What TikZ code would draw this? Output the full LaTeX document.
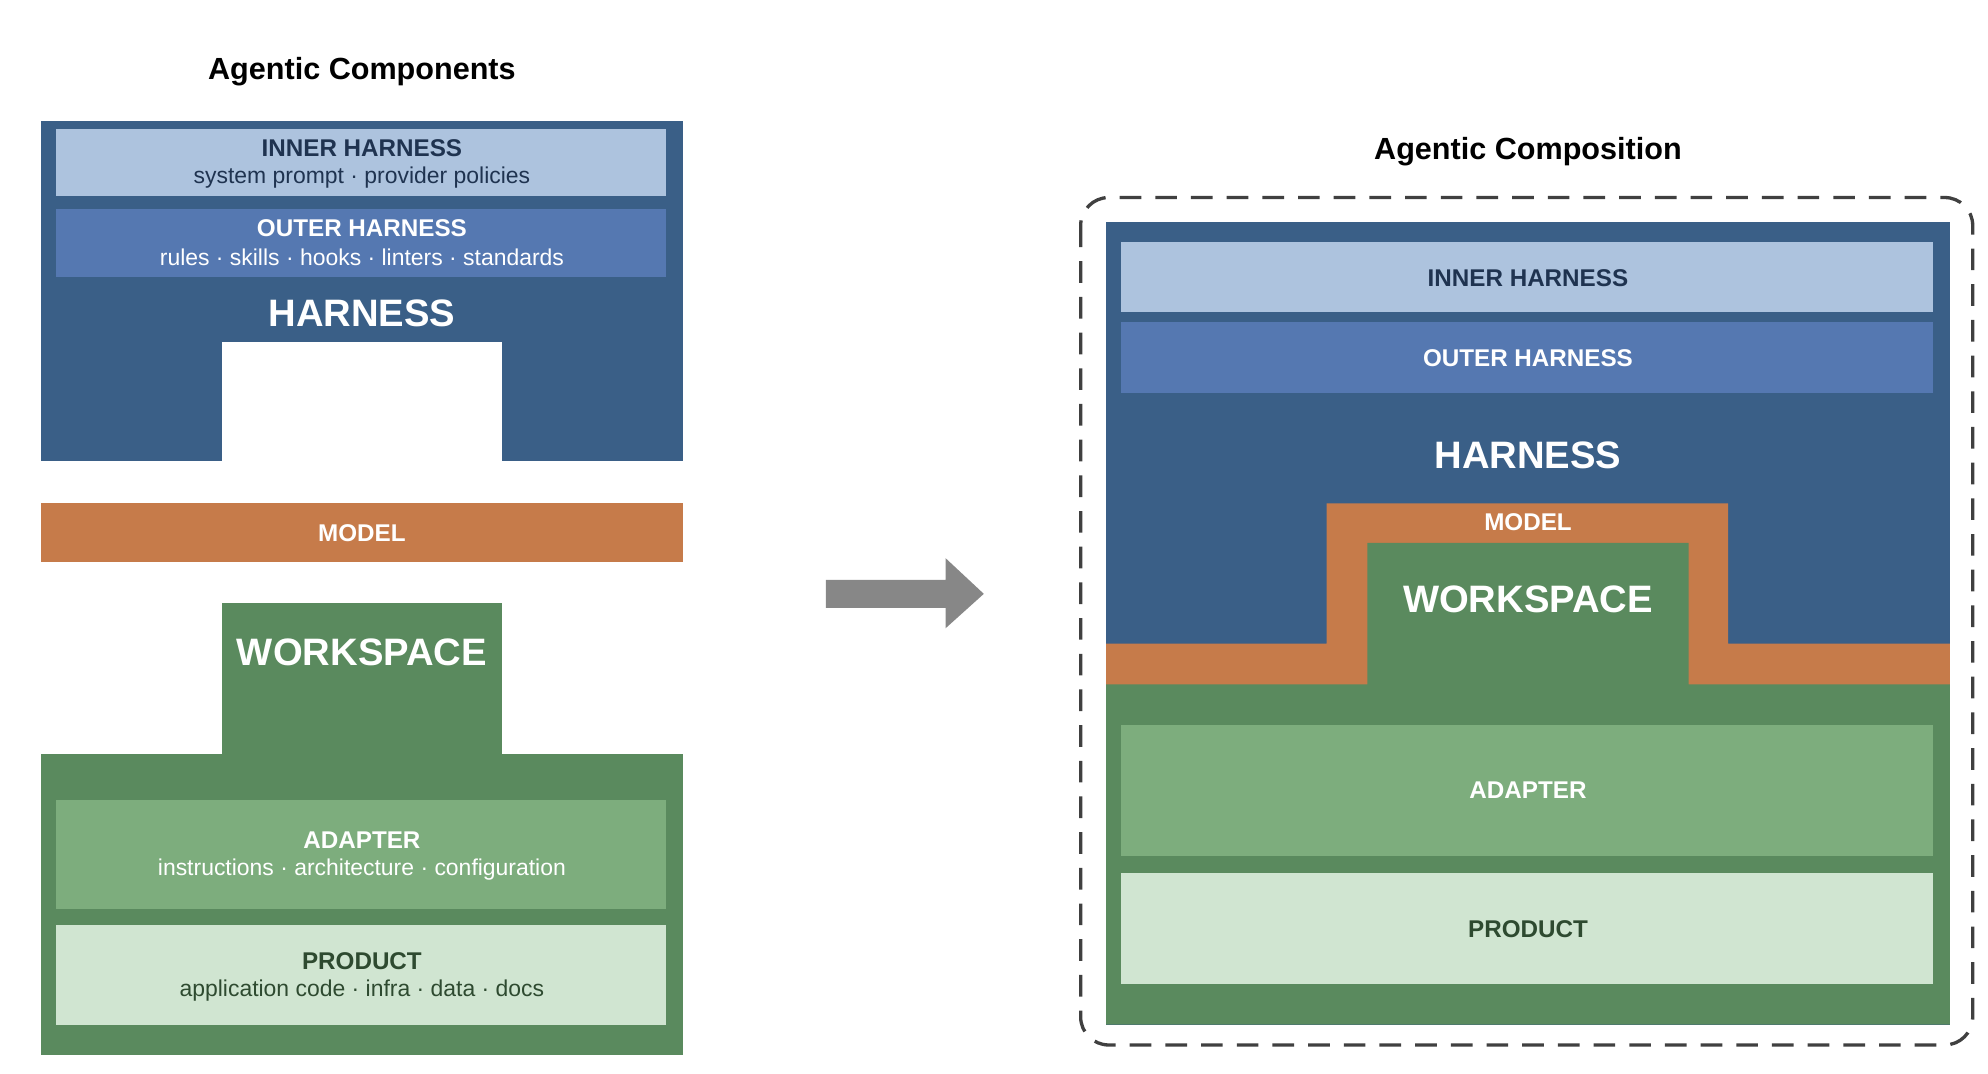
\documentclass[tikz,border=0pt]{standalone}
\usepackage{fontspec}
\setmainfont{Liberation Sans}
\definecolor{hblue}{HTML}{3A5F87}
\definecolor{inner}{HTML}{ADC3DE}
\definecolor{outer}{HTML}{5578B1}
\definecolor{morange}{HTML}{C67B4A}
\definecolor{wgreen}{HTML}{5A8A5E}
\definecolor{adapt}{HTML}{7DAD7D}
\definecolor{prod}{HTML}{D0E5D1}
\definecolor{innertxt}{HTML}{1F3350}
\definecolor{prodtxt}{HTML}{2E4A30}
\begin{document}
\begin{tikzpicture}[x=1pt,y=-1pt,
  lab/.style={font=\fontsize{19}{21}\selectfont\bfseries},
  sub/.style={font=\fontsize{18}{20}\selectfont},
  big/.style={font=\fontsize{30}{32}\selectfont\bfseries,text=white},
  ttl/.style={font=\fontsize{24}{26}\selectfont\bfseries}]
\useasboundingbox (0,0) rectangle (1560,842);
% ---------- left ----------
\node[ttl] (t1) at (284,56) {Agentic Components};
\fill[hblue] (32,95) rectangle (536,362);
\fill[white] (174,268) rectangle (394,363);
\fill[inner] (44,101) rectangle (523,154);
\node[lab,text=innertxt] (ih) at (284,116) {INNER HARNESS};
\node[sub,text=innertxt] (ihs) at (284,139) {system prompt · provider policies};
\fill[outer] (44,164) rectangle (523,217);
\node[lab,text=white] (oh) at (284,179) {OUTER HARNESS};
\node[sub,text=white] (ohs) at (284,202) {rules · skills · hooks · linters · standards};
\node[big] (h) at (284,246) {HARNESS};
\fill[morange] (32,395) rectangle (536,441);
\node[lab,text=white] (m) at (284,418) {MODEL};
\fill[wgreen] (174,473) rectangle (394,600);
\fill[wgreen] (32,592) rectangle (536,828);
\node[big] (w) at (284,512) {WORKSPACE};
\fill[adapt] (44,628) rectangle (523,713);
\node[lab,text=white] (a) at (284,659) {ADAPTER};
\node[sub,text=white] (as) at (284,682) {instructions · architecture · configuration};
\fill[prod] (44,726) rectangle (523,804);
\node[lab,text=prodtxt] (p) at (284,754) {PRODUCT};
\node[sub,text=prodtxt] (ps) at (284,777) {application code · infra · data · docs};
% ---------- arrow ----------
\fill[black!47] (648,455) -- (742,455) -- (742,438) -- (772,466) -- (742,493) -- (742,477) -- (648,477) -- cycle;
% ---------- right ----------
\node[ttl] (t2) at (1199,119) {Agentic Composition};
\draw[black!75,line width=2.6pt,dash pattern=on 17pt off 11pt,rounded corners=22pt] (848,155) rectangle (1548,820);
\fill[hblue] (868,174) rectangle (1530,804);
\fill[morange] (868,505) -- (1041,505) -- (1041,395) -- (1356,395) -- (1356,505) -- (1530,505) -- (1530,540) -- (868,540) -- cycle;
\fill[wgreen] (868,537) -- (1073,537) -- (1073,426) -- (1325,426) -- (1325,537) -- (1530,537) -- (1530,804) -- (868,804) -- cycle;
\fill[inner] (880,190) rectangle (1517,245);
\node[lab,text=innertxt] (ih2) at (1199,218) {INNER HARNESS};
\fill[outer] (880,253) rectangle (1517,308);
\node[lab,text=white] (oh2) at (1199,281) {OUTER HARNESS};
\node[big] (h2) at (1199,357) {HARNESS};
\node[lab,text=white] (m2) at (1199,410) {MODEL};
\node[big] (w2) at (1199,470) {WORKSPACE};
\fill[adapt] (880,569) rectangle (1517,672);
\node[lab,text=white] (a2) at (1199,620) {ADAPTER};
\fill[prod] (880,685) rectangle (1517,772);
\node[lab,text=prodtxt] (p2) at (1199,729) {PRODUCT};
\end{tikzpicture}
\end{document}
